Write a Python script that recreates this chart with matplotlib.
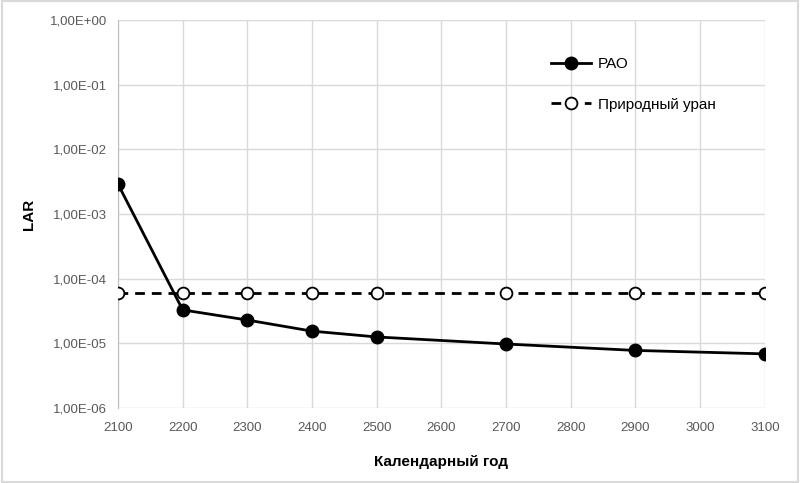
import matplotlib
matplotlib.use("Agg")
import matplotlib.pyplot as plt
from matplotlib.ticker import FixedLocator, FuncFormatter, NullLocator

plt.rcParams['font.family'] = ['Liberation Sans', 'DejaVu Sans']

# данные
years_rao = [2100, 2200, 2300, 2400, 2500, 2700, 2900, 3100]
lar_rao = [2.9e-3, 3.3e-5, 2.3e-5, 1.55e-5, 1.26e-5, 9.8e-6, 7.8e-6, 6.9e-6]
years_u = [2100, 2200, 2300, 2400, 2500, 2700, 2900, 3100]
lar_u = [6.0e-5] * 8
xticks = list(range(2100, 3101, 100))
yticks = [1e0, 1e-1, 1e-2, 1e-3, 1e-4, 1e-5, 1e-6]

fig = plt.figure(figsize=(8, 4.83), dpi=100)
fig.patches.append(plt.Rectangle((0.002, 0.003), 0.996, 0.994, transform=fig.transFigure,
                                 fill=False, edgecolor="#d9d9d9", linewidth=1.5))
ax = fig.add_axes([0.1475, 0.155, 0.8085, 0.8036])

ax.plot(years_rao, lar_rao, color="black", linewidth=2, marker="o", markersize=9,
        markerfacecolor="black", label="РАО", zorder=3)
ax.plot(years_u, lar_u, color="black", linewidth=2, linestyle=(0, (3.5, 2.5)), marker="o",
        markersize=8.5, markerfacecolor="white", markeredgewidth=1.3,
        label="Природный уран", zorder=3)

ax.set_yscale("log")
ax.set_ylim(1e-6, 1e0)
ax.set_xlim(2100, 3100)
ax.yaxis.set_major_locator(FixedLocator(yticks))
ax.yaxis.set_minor_locator(NullLocator())
ax.set_xticks(xticks)

def sci(v, pos):
    s = "%.2E" % v
    return s.replace(".", ",")
ax.yaxis.set_major_formatter(FuncFormatter(sci))

ax.grid(True, color="#d9d9d9", linewidth=1)
ax.set_axisbelow(True)
for side in ["top", "right", "bottom"]:
    ax.spines[side].set_visible(False)
ax.spines["left"].set_color("#bfbfbf")
ax.tick_params(length=0, labelsize=9.5, colors="#595959", pad=8)
ax.tick_params(axis="x", pad=10)

ax.set_xlabel("Календарный год", fontsize=11, fontweight="bold", labelpad=15)
ax.set_ylabel("LAR", fontsize=11, fontweight="bold", labelpad=10)

ax.legend(loc="upper left", bbox_to_anchor=(0.648, 0.94), frameon=False, fontsize=11,
          labelspacing=1.75, handlelength=2.6, handletextpad=0.5)

fig.savefig("out.png", dpi=100)
